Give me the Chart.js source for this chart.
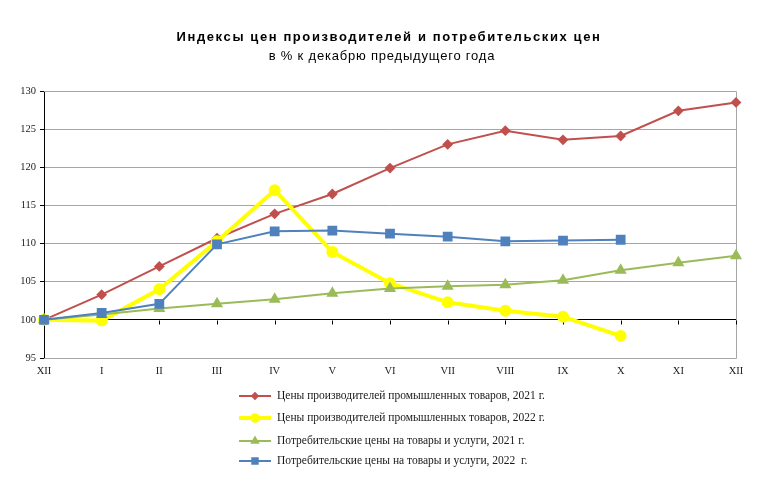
<!DOCTYPE html>
<html>
<head>
<meta charset="utf-8">
<script src="https://cdn.jsdelivr.net/npm/chart.js@4"></script>
<style>
  html, body { margin: 0; padding: 0; background: #fff; }
  #wrap { width: 758px; height: 495px; }
</style>
</head>
<body>
<div id="wrap"><canvas id="priceChart" width="758" height="495"></canvas></div>
<script>
// Months (XII of previous year ... XII)
const months = ["XII", "I", "II", "III", "IV", "V", "VI", "VII", "VIII", "IX", "X", "XI", "XII"];

// Series values, % to December of previous year
const ppi2021 = [100, 103.3, 107.0, 110.7, 113.9, 116.5, 119.9, 123.0, 124.8, 123.6, 124.1, 127.4, 128.5];
const ppi2022 = [100, 99.9, 104.0, 110.3, 117.0, 108.9, 104.8, 102.3, 101.2, 100.4, 97.9];
const cpi2021 = [100, 100.7, 101.5, 102.1, 102.7, 103.5, 104.1, 104.4, 104.6, 105.2, 106.5, 107.5, 108.4];
const cpi2022 = [100, 100.9, 102.1, 109.9, 111.6, 111.7, 111.3, 110.9, 110.3, 110.4, 110.5];

const seriesNames = [
    "Цены производителей промышленных товаров, 2021 г.",
    "Цены производителей промышленных товаров, 2022 г.",
    "Потребительские цены на товары и услуги, 2021 г.",
    "Потребительские цены на товары и услуги, 2022  г."
];

const serif = "'Liberation Serif', 'Times New Roman', serif";
const sans = "'Liberation Sans', Arial, sans-serif";

// Titles, plot frame, tick marks on the 100 line and the legend
const decor = {
    id: "decor",
    beforeDatasetsDraw(chart) {
        const { ctx, chartArea: a, scales } = chart;
        ctx.save();
        ctx.strokeStyle = "#a6a6a6";
        ctx.lineWidth = 1;
        ctx.beginPath();
        ctx.moveTo(a.left, a.top + 0.5);
        ctx.lineTo(a.right + 0.5, a.top + 0.5);
        ctx.lineTo(a.right + 0.5, a.bottom + 0.5);
        ctx.lineTo(a.left, a.bottom + 0.5);
        ctx.stroke();
        // x ticks at the 100 line
        const y100 = Math.round(scales.y.getPixelForValue(100)) + 0.5;
        ctx.strokeStyle = "#000";
        ctx.beginPath();
        months.forEach((m, i) => {
            const x = Math.round(scales.x.getPixelForValue(i)) + 0.5;
            ctx.moveTo(x, y100);
            ctx.lineTo(x, y100 + 4);
        });
        ctx.stroke();
        ctx.restore();
    },
    afterDraw(chart) {
        const { ctx } = chart;
        ctx.save();
        ctx.fillStyle = "#000";
        ctx.textAlign = "center";
        ctx.textBaseline = "middle";
        ctx.font = "bold 13px " + sans;
        ctx.letterSpacing = "1.6px";
        ctx.fillText("Индексы цен производителей и потребительских цен", 389, 37);
        ctx.font = "13px " + sans;
        ctx.letterSpacing = "0.8px";
        ctx.fillText("в % к декабрю предыдущего года", 382, 56);
        ctx.letterSpacing = "0px";

        // legend
        const rows = [396, 418, 441, 461];
        chart.data.datasets.forEach((ds, i) => {
            const y = rows[i];
            ctx.strokeStyle = ds.borderColor;
            ctx.lineWidth = ds.borderWidth === 4 ? 4 : 2;
            ctx.beginPath();
            ctx.moveTo(239, y);
            ctx.lineTo(271, y);
            ctx.stroke();
            ctx.fillStyle = ds.backgroundColor;
            Chart.helpers.drawPoint(ctx, {
                pointStyle: ds.pointStyle,
                radius: ds.pointRadius * 0.7,
                borderWidth: 1
            }, 255, y);
            ctx.fillStyle = "#1a1a1a";
            ctx.textAlign = "left";
            ctx.font = "11.5px " + serif;
            ctx.fillText(ds.label, 277, y);
        });
        ctx.restore();
    }
};

const ctx = document.getElementById("priceChart").getContext("2d");
new Chart(ctx, {
    type: "line",
    data: {
        labels: months,
        datasets: [
            {
                label: seriesNames[0],
                data: ppi2021,
                borderColor: "#c0504d",
                backgroundColor: "#c0504d",
                borderWidth: 2,
                pointStyle: "rectRot",
                pointRadius: 4,
                order: 3
            },
            {
                label: seriesNames[1],
                data: ppi2022,
                borderColor: "#ffff00",
                backgroundColor: "#ffff00",
                borderWidth: 4,
                pointStyle: "circle",
                pointRadius: 4,
                order: 2
            },
            {
                label: seriesNames[2],
                data: cpi2021,
                borderColor: "#9bbb59",
                backgroundColor: "#9bbb59",
                borderWidth: 2,
                pointStyle: "triangle",
                pointRadius: 5,
                order: 1
            },
            {
                label: seriesNames[3],
                data: cpi2022,
                borderColor: "#4f81bd",
                backgroundColor: "#4f81bd",
                borderWidth: 2,
                pointStyle: "rect",
                pointRadius: 5.5,
                order: 0
            }
        ]
    },
    options: {
        responsive: false,
        animation: false,
        layout: { padding: { top: 91, right: 22, bottom: 117, left: 0 } },
        elements: {
            line: { tension: 0 },
            point: { borderWidth: 1, hoverRadius: 5 }
        },
        plugins: {
            legend: { display: false },
            tooltip: { enabled: false }
        },
        scales: {
            x: {
                offset: false,
                grid: { display: false, drawTicks: false },
                border: { display: false },
                ticks: {
                    color: "#222",
                    font: { family: serif, size: 10.5 },
                    padding: 7,
                    maxRotation: 0,
                    autoSkip: false
                },
                afterFit(scale) { scale.height = 20; }
            },
            y: {
                min: 95,
                max: 130,
                ticks: {
                    stepSize: 5,
                    color: "#222",
                    font: { family: serif, size: 10.5 },
                    padding: 4
                },
                grid: {
                    color: (c) => (c.tick && c.tick.value === 100 ? "#000" : "#a6a6a6"),
                    tickColor: "#000",
                    tickLength: 4
                },
                border: { color: "#000" },
                afterFit(scale) { scale.width = 44; }
            }
        }
    },
    plugins: [decor]
});
</script>
</body>
</html>
